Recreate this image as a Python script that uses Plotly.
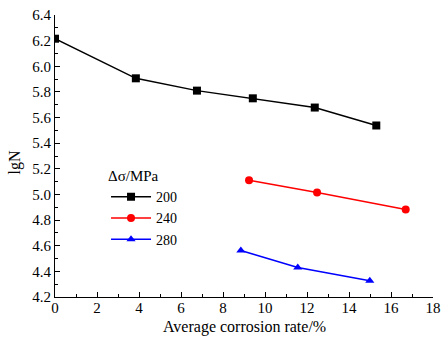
import plotly.graph_objects as go

x200 = [0, 3.85, 6.76, 9.42, 12.37, 15.3]
y200 = [6.215, 5.906, 5.81, 5.75, 5.678, 5.538]
x240 = [9.24, 12.48, 16.70]
y240 = [5.11, 5.016, 4.882]
x280 = [8.85, 11.56, 14.99]
y280 = [4.563, 4.43, 4.326]
names = ["200", "240", "280"]
colors = ["black", "red", "blue"]
symbols = ["square", "circle", "triangle-up"]

FONT = "Liberation Serif, Times New Roman, serif"
fig = go.Figure()
for xs, ys, n, c, s in zip([x200, x240, x280], [y200, y240, y280], names, colors, symbols):
    fig.add_trace(go.Scatter(x=xs, y=ys, name=n, mode="lines+markers",
                             line=dict(color=c, width=1.5),
                             marker=dict(symbol=s, size=8, color=c)))

axis_common = dict(showgrid=False, zeroline=False, showline=True, linecolor="black",
                   linewidth=1, ticks="inside", ticklen=5, tickcolor="black",
                   tickfont=dict(family=FONT, size=15, color="black"), automargin=False)
fig.update_xaxes(range=[0, 18], dtick=2, tick0=0, ticklabelstandoff=-3,
                 minor=dict(dtick=1, ticks="inside", ticklen=3, tickcolor="black"),
                 **axis_common)
fig.update_yaxes(range=[4.2, 6.4], dtick=0.2, tick0=4.2, tickformat=".1f",
                 minor=dict(dtick=0.1, ticks="inside", ticklen=3, tickcolor="black"),
                 **axis_common)
fig.add_annotation(text="Average corrosion rate/%", xref="paper", yref="paper",
                   x=0.5, y=0, yshift=-19, xanchor="center", yanchor="top", showarrow=False,
                   font=dict(family=FONT, size=16, color="black"))
fig.add_annotation(text="lgN", xref="paper", yref="y", x=0, y=5.25, xshift=-40,
                   textangle=-90, xanchor="center", yanchor="middle", showarrow=False,
                   font=dict(family=FONT, size=16, color="black"))
fig.update_layout(
    width=445, height=341,
    margin=dict(l=55, r=12, t=15, b=44),
    plot_bgcolor="white", paper_bgcolor="white",
    legend=dict(x=0.135, y=0.48, xanchor="left", yanchor="top",
                bgcolor="rgba(0,0,0,0)", font=dict(family=FONT, size=14, color="black"),
                title=dict(text="Δσ/MPa", font=dict(family=FONT, size=15, color="black")),
                itemwidth=40, tracegroupgap=0),
)
fig.write_html("out.html", config={"displayModeBar": False},
               post_script="document.body.style.margin='0';document.body.style.overflow='hidden';")
